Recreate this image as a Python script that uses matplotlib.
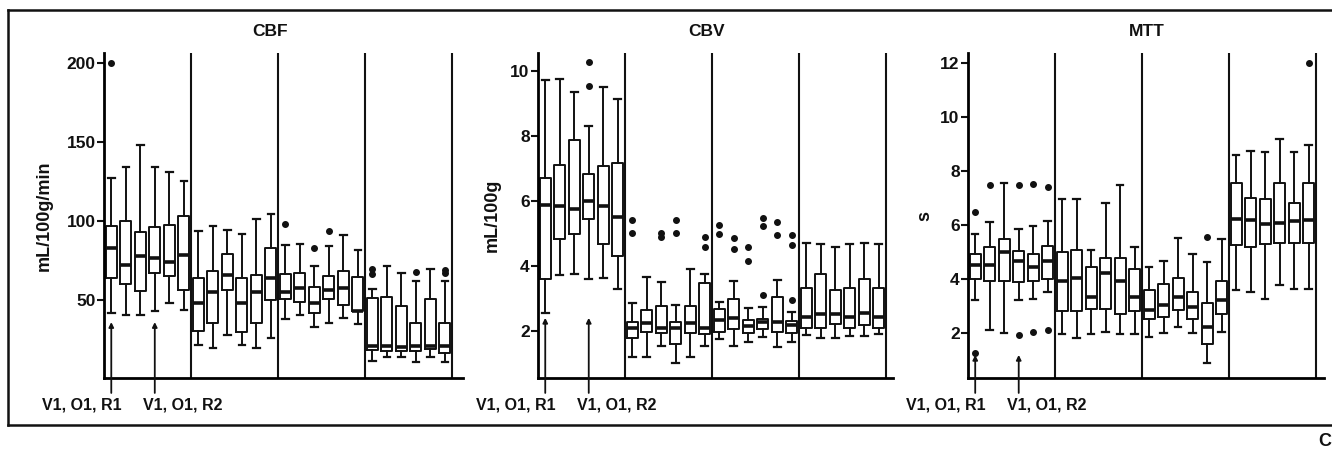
import matplotlib

matplotlib.use("Agg")
import matplotlib.pyplot as plt
from matplotlib.lines import Line2D

plt.rcParams["font.family"] = ["Liberation Sans", "DejaVu Sans"]
plt.rcParams["font.weight"] = "bold"

INK = "#111111"

# 4 conditions x 6 repeats per parameter; five-number summaries + outliers
cbf_lo = [42, 40.5, 40.5, 43, 48, 44, 22, 20, 28, 22, 20, 26.5,
          38, 41, 33, 36, 39, 35, 12, 14, 14, 11, 14, 11]
cbf_q1 = [64, 60, 56, 67.5, 65.4, 56.5, 30.4, 36, 56.5, 30, 36, 50,
          51, 49, 42, 51, 47, 43, 18.5, 18, 18, 18, 19, 17]
cbf_med = [83, 72, 78, 77, 74, 78.5, 48, 55, 66, 48, 55, 64,
           55, 58, 48, 56.5, 58, 43.5, 21, 21, 20.5, 21, 21.5, 21]
cbf_q3 = [97, 100, 93, 96, 97.5, 103.4, 64, 68.3, 79, 64, 66, 82.7,
          66.7, 67.5, 58.7, 65.4, 68.3, 64.5, 51.7, 52, 46.4, 36, 51, 36]
cbf_hi = [127, 134, 148, 134, 131, 125, 94, 97, 94.5, 91.6, 101, 104.6,
          85, 85.7, 71.7, 84.4, 91, 82, 57.4, 71.7, 67.5, 62, 70, 62]
cbf_out = [[200], [], [], [], [], [], [], [], [], [], [], [],
           [98], [], [82.7], [93.5], [], [], [70, 66.3], [], [], [68], [], [69, 67]]

cbv_lo = [2.56, 3.72, 3.74, 3.61, 3.64, 3.29, 1.19, 1.19, 1.54, 1.0, 1.19, 1.52,
          1.76, 1.55, 1.65, 1.81, 1.49, 1.66, 1.87, 1.79, 1.79, 1.85, 1.85, 1.9]
cbv_q1 = [3.59, 4.84, 4.98, 5.44, 4.68, 4.31, 1.78, 1.97, 1.92, 1.59, 1.95, 1.9,
          1.96, 2.05, 1.94, 2.06, 1.98, 1.95, 2.1, 2.1, 2.2, 2.1, 2.18, 2.08]
cbv_med = [5.86, 5.83, 5.74, 6.0, 5.83, 5.49, 2.08, 2.24, 2.1, 2.08, 2.24, 2.08,
           2.32, 2.39, 2.15, 2.27, 2.27, 2.18, 2.44, 2.52, 2.51, 2.42, 2.54, 2.42]
cbv_q3 = [6.7, 7.1, 7.86, 6.82, 7.08, 7.18, 2.26, 2.65, 2.78, 2.27, 2.77, 3.46,
          2.68, 2.97, 2.32, 2.36, 3.03, 2.29, 3.33, 3.75, 3.25, 3.33, 3.61, 3.33]
cbv_hi = [9.72, 9.76, 9.36, 8.31, 9.49, 9.14, 2.87, 3.67, 3.49, 2.8, 3.9, 3.75,
          2.89, 3.55, 2.7, 2.75, 3.57, 2.58, 4.7, 4.66, 4.59, 4.66, 4.7, 4.66]
cbv_out = [[], [], [], [10.26, 9.53], [], [], [5.41, 5.0], [], [5.02, 4.9], [5.41, 5.0], [], [4.88, 4.59],
           [5.27, 4.99], [4.87, 4.51], [4.59, 4.15], [5.48, 5.23, 3.11], [5.35, 4.94], [4.95, 4.63, 2.95],
           [], [], [], [], [], []]

mtt_lo = [3.23, 2.12, 2.0, 3.23, 3.26, 3.5, 1.96, 1.8, 1.96, 2.02, 1.96, 1.96,
          1.84, 2.0, 2.21, 1.98, 0.89, 2.05, 3.6, 3.51, 3.27, 3.76, 3.63, 3.63]
mtt_q1 = [4.0, 3.93, 3.93, 3.88, 3.93, 4.01, 2.83, 2.83, 2.89, 2.89, 2.71, 2.8,
          2.52, 2.58, 2.84, 2.53, 1.59, 2.71, 5.25, 5.2, 5.29, 5.33, 5.33, 5.33]
mtt_med = [4.52, 4.5, 4.99, 4.65, 4.43, 4.67, 3.93, 4.02, 3.32, 4.22, 3.93, 3.32,
           2.86, 3.02, 3.32, 2.95, 2.22, 3.23, 6.22, 6.19, 6.04, 6.06, 6.15, 6.19]
mtt_q3 = [4.91, 5.2, 5.49, 5.05, 4.91, 5.23, 5.0, 5.08, 4.46, 4.76, 4.76, 4.38,
          3.6, 3.81, 4.03, 3.53, 3.11, 3.93, 7.54, 7.01, 6.95, 7.54, 6.83, 7.57]
mtt_hi = [5.67, 6.11, 7.57, 5.84, 5.97, 6.13, 6.95, 6.95, 5.08, 6.83, 7.47, 5.2,
          4.46, 4.67, 5.51, 4.91, 4.61, 5.47, 8.59, 8.74, 8.69, 9.17, 8.69, 8.98]
mtt_out = [[6.48, 1.24], [7.48], [], [7.48, 1.91], [7.5, 2.04], [7.41, 2.12], [], [], [], [], [], [],
           [], [], [], [], [5.57], [], [], [], [], [], [], [12.0]]

labels = ["V1, O1, R1", "V1, O1, R2"]
marked = [1, 4]          # boxes the two arrows point at

panels = [
    # title, unit, summary lists, ylim, ticks, axes rect, ylabel x, title x, arrow head
    ("CBF", "mL/100g/min", (cbf_lo, cbf_q1, cbf_med, cbf_q3, cbf_hi, cbf_out),
     (1, 206), [50, 100, 150, 200], [0.0781, 0.160, 0.2695, 0.7222], -0.142, 0.462, 0.172),
    ("CBV", "mL/100g", (cbv_lo, cbv_q1, cbv_med, cbv_q3, cbv_hi, cbv_out),
     (0.55, 10.55), [2, 4, 6, 8, 10], [0.4039, 0.160, 0.2665, 0.7222], -0.105, 0.476, 0.185),
    ("MTT", "s", (mtt_lo, mtt_q1, mtt_med, mtt_q3, mtt_hi, mtt_out),
     (0.33, 12.37), [2, 4, 6, 8, 10, 12], [0.7267, 0.160, 0.2673, 0.7222], -0.098, 0.503, 0.071),
]

fig = plt.figure(figsize=(13.32, 4.5), dpi=100)

for title, unit, (lo, q1, med, q3, hi, out), ylim, ticks, rect, ylx, tx, head in panels:
    ax = fig.add_axes(rect)
    stats = [dict(whislo=a, q1=b, med=c, q3=d, whishi=e, fliers=f)
             for a, b, c, d, e, f in zip(lo, q1, med, q3, hi, out)]
    pos = list(range(1, len(stats) + 1))
    ax.bxp(stats, positions=pos, widths=0.76, capwidths=0.45, showfliers=True,
           boxprops=dict(color=INK, lw=1.4),
           whiskerprops=dict(color=INK, lw=1.4),
           capprops=dict(color=INK, lw=1.6),
           medianprops=dict(color=INK, lw=2.6),
           flierprops=dict(marker="o", markersize=4.0, markerfacecolor=INK,
                           markeredgecolor=INK, linestyle="none"))

    width_units = rect[2] * 1332 / 14.5
    ax.set_xlim(0.5, 0.5 + width_units)
    ax.set_ylim(*ylim)
    for xs in (6.5, 12.5, 18.5, 24.5):
        ax.axvline(xs, color=INK, lw=1.5, zorder=1)

    ax.spines[["top", "right"]].set_visible(False)
    ax.spines["left"].set_linewidth(2.0)
    ax.spines["bottom"].set_linewidth(2.0)
    ax.set_xticks([])
    ax.set_yticks(ticks)
    ax.tick_params(axis="y", direction="out", length=5, width=1.5, pad=1,
                   labelsize=12.5, colors=INK)
    for t in ax.get_yticklabels():
        t.set_fontweight("bold")
    ax.set_ylabel(unit, fontsize=13, fontweight="bold", color=INK)
    ax.yaxis.set_label_coords(ylx, 0.5)
    ax.text(tx, 1.065, title, transform=ax.transAxes, ha="center", va="center",
            fontsize=12.5, fontweight="bold", color=INK)

    # arrows marking the first two repeat sets
    trans = ax.get_xaxis_transform()
    for b in marked:
        ax.annotate("", xy=(b, head), xytext=(b, -0.046), xycoords=trans, textcoords=trans,
                    arrowprops=dict(arrowstyle="-|>", lw=1.3, color=INK,
                                    mutation_scale=7, shrinkA=0, shrinkB=0),
                    annotation_clip=False)
    for lab, lx in zip(labels, (-1.0, 5.9)):
        ax.text(lx, -0.083, lab, transform=trans, ha="center", va="center",
                fontsize=11.5, fontweight="bold", color=INK, clip_on=False)

# outer frame (open on the right)
fy0, fy1, fx0 = 1 - 425 / 450, 1 - 10 / 450, 8 / 1332
for xs, ys in (([fx0, 1.0], [fy1, fy1]), ([fx0, 1.0], [fy0, fy0]), ([fx0, fx0], [fy0, fy1])):
    fig.add_artist(Line2D(xs, ys, transform=fig.transFigure, color=INK, lw=1.8))

fig.text(1318 / 1332, 1 - 441 / 450, "C", ha="left", va="center",
         fontsize=13, fontweight="bold", color=INK)

fig.savefig("out.png", dpi=100, facecolor="white")
